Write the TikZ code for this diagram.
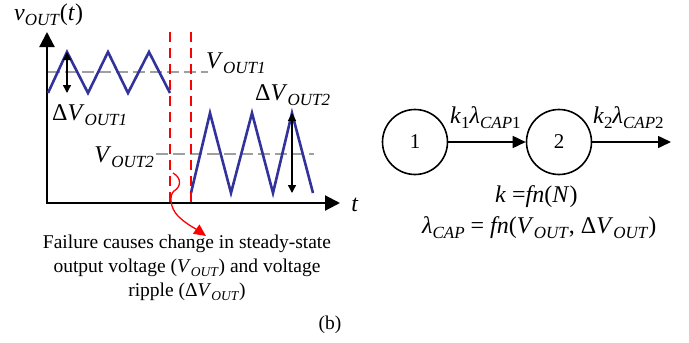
\documentclass[tikz,border=0pt]{standalone}
\usepackage{fontspec}
\setmainfont{Liberation Serif}
\usetikzlibrary{arrows.meta,positioning}
\definecolor{wavecol}{RGB}{50,50,155}
\newcommand{\mfont}{\fontsize{24}{26}\selectfont}
\newcommand{\lowsub}[1]{\raisebox{-5pt}{\fontsize{17}{17}\selectfont\textit{#1}}}
\newcommand{\smallsub}[1]{\raisebox{-3.5pt}{\fontsize{13.5}{14}\selectfont\textit{#1}}}
\newcommand{\vsub}[2]{\textit{#1}\lowsub{#2}}

\begin{document}
\begin{tikzpicture}[
        x=1pt,
        y=-1pt,
        font=\fontsize{19.5}{24}\selectfont,
        axis/.style={-{Triangle[length=15pt,width=15pt]}, line width=2.2pt},
        wave/.style={line width=2.6pt, wavecol},
        level/.style={gray!75, line width=1.4pt, dash pattern=on 12pt off 5pt},
        cut/.style={red, line width=1.3pt, dash pattern=on 10pt off 6pt},
        ripple/.style={{Triangle[length=8pt,width=8pt]}-{Triangle[length=8pt,width=8pt]}, line width=1.4pt},
        lab/.style={inner sep=0pt, font=\mfont},
        stateC/.style={circle, draw, line width=1.6pt, minimum size=65pt, inner sep=0pt, font=\fontsize{21}{24}\selectfont},
        trans/.style={-{Triangle[length=13pt,width=12pt]}, line width=1.6pt}
    ]
        \useasboundingbox (0,0) rectangle (689,343);

        % axes
        \draw[axis] (47,203) -- (47,32);
        \draw[axis] (46,203) -- (340,203);
        \node[lab, anchor=base west] (ylab) at (14,20) {\vsub{v}{OUT}(\textit{t})};
        \node[lab] (xlab) at (355,205) {\textit{t}};

        % steady-state levels
        \draw[level] (48,72) -- (208,72);
        \draw[level] (156,154) -- (314,154);
        \node[lab, anchor=base west] (v1) at (206,68) {\vsub{V}{OUT1}};
        \node[lab, anchor=base east] (v2) at (154,162) {\vsub{V}{OUT2}};

        % output voltage before and after the failure
        \draw[wave] (48,93) -- (67,52) -- (88,93) -- (108,52) -- (128,93)
            -- (149,52) -- (170,93);
        \draw[wave] (191,193) -- (210,113) -- (231,193) -- (252,113) -- (273,193)
            -- (292,113) -- (313,193);

        % ripple
        \draw[ripple] (67,52) -- (67,93);
        \draw[ripple] (292,113) -- (292,193);
        \node[lab, anchor=base west] (dv1) at (52,120) {Δ\vsub{V}{OUT1}};
        \node[lab, anchor=base west] (dv2) at (255,100) {Δ\vsub{V}{OUT2}};

        % failure instant
        \draw[cut] (170,32) -- (170,203);
        \draw[cut] (191,32) -- (191,203);
        \draw[red, line width=1.3pt, -{Triangle[length=12pt,width=11pt]}] (173,173)
            .. controls (182,178) and (181,187) .. (174,191)
            .. controls (169,195) and (170,208) .. (178,216)
            .. controls (186,224) and (196,229) .. (206,236);

        \node[align=center] (note) at (187,268) {Failure causes change in steady-state\\
            output voltage (\textit{V}\smallsub{OUT}) and voltage\\ripple (Δ\textit{V}\smallsub{OUT})};
        \node (tag) at (330,325) {(b)};

        % Markov model
        \node[stateC] (s1) at (415,142) {1};
        \node[stateC] (s2) at (559,142) {2};
        \coordinate (out) at (671,142);
        \draw[trans] (s1) -- (s2);
        \draw[trans] (s2) -- (out);
        \node[lab, anchor=base west] (r1) at (450,123) {\textit{k}\lowsub{\upshape 1}\textit{λ}\lowsub{CAP\upshape 1}};
        \node[lab, anchor=base west] (r2) at (593,123) {\textit{k}\lowsub{\upshape 2}\textit{λ}\lowsub{CAP\upshape 2}};
        \node[lab, anchor=base west] (kfn) at (495,202) {\textit{k} =\textit{fn}(\textit{N})};
        \node[lab, anchor=base west] (lfn) at (422,233) {\textit{λ}\lowsub{CAP} = \textit{fn}(\vsub{V}{OUT}, Δ\vsub{V}{OUT})};
    \end{tikzpicture}
\end{document}
